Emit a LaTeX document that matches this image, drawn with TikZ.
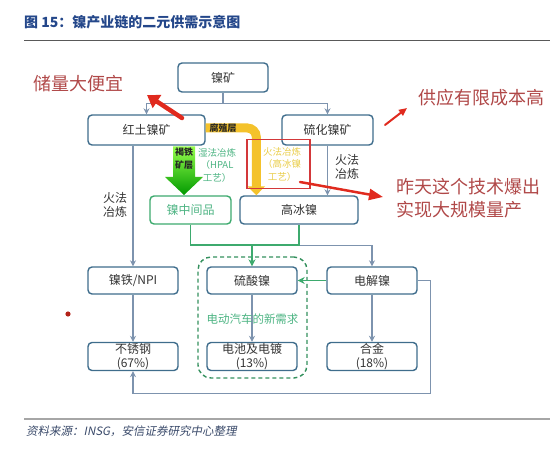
\documentclass[tikz,border=0pt]{standalone}
\usepackage{fontspec}
\setmainfont{Noto Sans CJK SC}
\newfontfamily\slantfont{Noto Sans CJK SC}[FakeSlant=0.2]
\usetikzlibrary{arrows.meta,calc}
\definecolor{boxline}{HTML}{3F6D8C}
\definecolor{connc}{HTML}{7D93AE}
\definecolor{grn}{HTML}{3DAA6E}
\definecolor{grntext}{HTML}{4DB483}
\definecolor{ylw}{HTML}{F4C22B}
\definecolor{ylwtext}{HTML}{E9CD4A}
\definecolor{redarrow}{HTML}{E02A1E}
\definecolor{redrect}{HTML}{D3383A}
\definecolor{redtext}{HTML}{B04848}
\definecolor{titleblue}{HTML}{24478A}
\definecolor{txt}{HTML}{333333}
\definecolor{srcblue}{HTML}{3A4A6A}
\begin{document}
\begin{tikzpicture}[x=1pt,y=-1pt,
  box/.style={draw=boxline, line width=1.4pt, rounded corners=4pt, fill=white,
    minimum width=90pt, minimum height=28pt, text=txt, align=center, inner sep=1pt,
    font=\fontsize{12}{13.5}\selectfont},
  connline/.style={draw=connc, line width=1.3pt},
  conn/.style={connline, -{Stealth[length=6pt,width=6pt]}},
  gline/.style={draw=grn, line width=1.6pt},
  garrow/.style={gline, -{Stealth[length=7pt,width=7pt]}},
  redarr/.style={draw=redarrow, line cap=round},
  lbl/.style={text=txt, align=center, font=\fontsize{12}{14}\selectfont, inner sep=0pt},
  smalllbl/.style={align=center, font=\fontsize{9.5}{12.5}\selectfont, inner sep=0pt},
  note/.style={text=redtext, align=left, font=\fontsize{18}{23.5}\selectfont, inner sep=0pt}
]
\useasboundingbox (0,0) rectangle (550,460);

% title and rules
\node[anchor=west, text=titleblue, font=\fontsize{14}{16}\bfseries\selectfont, inner sep=0pt] (title) at (24,22) {图 15：镍产业链的二元供需示意图};
\draw[line width=1.5pt, draw=black!65] (24,40.5) -- (550,40.5);
\draw[line width=1.2pt, draw=black!35] (24,419) -- (550,419);
\node[anchor=west, text=srcblue, font=\slantfont\fontsize{11.5}{13}\selectfont, inner sep=0pt] (src) at (26,431) {资料来源：INSG，安信证券研究中心整理};

% boxes
\node[box, minimum height=29pt] (nieku) at (223,77.5) {镍矿};
\node[box, minimum width=117pt, minimum height=30pt] (hongtu) at (146.5,130) {红土镍矿};
\node[box, minimum width=91pt, minimum height=30pt] (liuhua) at (327.5,130) {硫化镍矿};
\node[box, draw=grn, text=grntext, minimum width=81pt] (zhongjian) at (190.5,210) {镍中间品};
\node[box, minimum width=118pt] (gaobing) at (299,210) {高冰镍};
\node[box, minimum height=27pt] (niti) at (133,280.5) {镍铁/NPI};
\node[box, minimum height=27pt] (liusuan) at (252,280.5) {硫酸镍};
\node[box, minimum height=27pt] (dianjie) at (372,280.5) {电解镍};
\node[box] (buxiu) at (133,356.5) {不锈钢\\(67\%)};
\node[box] (dianchi) at (252,356.5) {电池及电镀\\(13\%)};
\node[box] (hejin) at (372,356.5) {合金\\(18\%)};

% dashed EV region
\node[draw=grn!85!black, dash pattern=on 4pt off 3pt, line width=1.4pt, rounded corners=13pt,
  minimum width=109pt, minimum height=121pt, inner sep=0pt] (evbox) at (252.5,317.5) {};

% connectors
\draw[connline] (nieku.south) -- ++(0,11) coordinate (split);
\draw[conn] (split) -| (hongtu.north);
\draw[conn] (split) -| (liuhua.north);
\draw[conn] (hongtu.south -| niti.north) -- (niti.north);
\draw[conn] (liuhua.south) -- (liuhua.south |- gaobing.north);
\draw[conn] ($(gaobing.south)+(0,21)$) -| (dianjie.north);
\draw[gline] (zhongjian.south) -- ++(0,20) coordinate (gj) -| (gaobing.south);
\draw[garrow] (gj -| liusuan.north) -- (liusuan.north);
\draw[garrow] (dianjie.west) -- (liusuan.east);
\draw[conn] (niti.south) -- (buxiu.north);
\draw[conn] (liusuan.south) -- (dianchi.north);
\draw[conn] (dianjie.south) -- (hejin.north);
\draw[conn] (dianjie.east) -- ++(13,0) |- ($(buxiu.south)+(0,22)$) -- (buxiu.south);

\node[text=grntext, font=\fontsize{11.5}{13}\selectfont, inner sep=0pt] (evlabel) at (252.5,319) {电动汽车的新需求};

% process labels
\node[lbl] (lefthf) at (115,205) {火法\\冶炼};
\node[lbl] (righthf) at (347,167) {火法\\冶炼};

% big green arrow
\shade[top color=green!45!lime!70!white, bottom color=green!60!black]
  (173,146.5) -- (195,146.5) -- (195,177) -- (203,177) -- (184,195) -- (165,177) -- (173,177) -- cycle;
\node[smalllbl, text=black!85, font=\bfseries\fontsize{9}{12.5}\selectfont] (hetie) at (184,158.5) {褐铁\\矿层};
\node[smalllbl, text=grntext] (shifa) at (217,165) {湿法冶炼\\（HPAL\\工艺）};

% yellow arrow
\draw[draw=ylw, line width=9pt, rounded corners=9pt, -{Triangle[length=9pt,width=17pt]}]
  ($(hongtu.east)+(0,-2)$) -| ($(gaobing.north west)+(17,0)$);
\node[smalllbl, text=black!85, font=\bfseries\fontsize{9}{10}\selectfont] (fuzhi) at (223,128) {腐殖层};

% red rectangle and its text
\node[draw=redrect, line width=1.6pt, minimum width=63pt, minimum height=49pt, inner sep=0pt] (rrect) at (278.5,164) {};
\node[smalllbl, text=ylwtext] (huofa) at (282,164) {火法冶炼\\（高冰镍\\工艺）};

% red annotations
\node[note, anchor=center] (chuliang) at (79,84) {储量大便宜};
\node[note, anchor=center] (gongying) at (481,98) {供应有限成本高};
\node[note, anchor=west] (zuotian) at (396,198) {昨天这个技术爆出\\实现大规模量产};

\coordinate (a1s) at (182,118);
\coordinate (a1e) at (147,95);
\draw[redarr, line width=4.5pt, -{Triangle[length=12pt,width=15pt]}] (a1s) -- (a1e);
\coordinate (a2s) at (385,125);
\coordinate (a2e) at (407,108);
\draw[redarr, line width=2pt, -{Triangle[length=8pt,width=7pt]}] (a2s) -- (a2e);
\coordinate (a3s) at (300,182);
\draw[redarr, line width=2.5pt, -{Triangle[length=14pt,width=11pt]}] (a3s) -- ($(zuotian.west)+(-13,-1)$);

% stray red dot
\fill[redarrow!80!black] (68,314) circle (2.6pt);
\end{tikzpicture}
\end{document}
